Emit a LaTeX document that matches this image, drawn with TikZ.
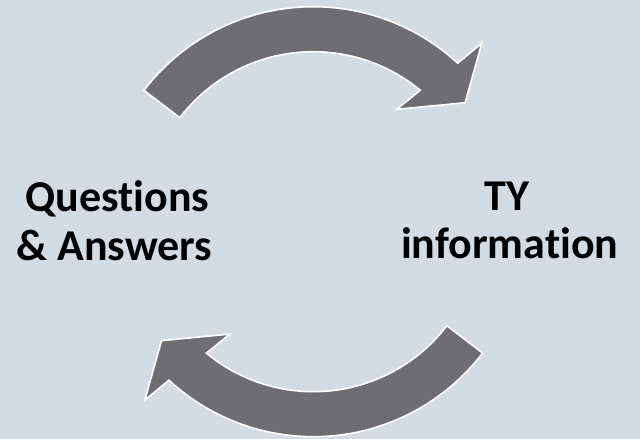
\documentclass[tikz,border=0pt]{standalone}
\usepackage{fontspec}
\setmainfont[Ligatures={NoCommon,NoRequired,NoContextual}]{Carlito}
\definecolor{bgcol}{RGB}{212,220,227}
\definecolor{arrowcol}{RGB}{110,109,114}
\tikzset{
  arrowshape/.style={fill=arrowcol, draw=white, line width=1.6pt, line join=miter},
  label/.style={font=\bfseries\fontsize{44}{48}\selectfont, text=black, inner sep=0pt, anchor=base}
}
\begin{document}
\begin{tikzpicture}[x=1pt,y=1pt]
  \fill[bgcol] (0,0) rectangle (640,-439);
  \useasboundingbox (0,0) rectangle (640,-439);
  % top arrow
  \begin{scope}[shift={(313.2,-219.7)}]
    \draw[arrowshape] (142.6:213) arc[start angle=142.6, end angle=47.3, radius=213]
      -- (46.3:244) -- (37.6:191.7) -- (52.9:138.4) -- (50.4:168)
      arc[start angle=50.4, end angle=142.6, radius=168] -- cycle;
  \end{scope}
  % bottom arrow
  \begin{scope}[shift={(313.4,-223.7)}]
    \draw[arrowshape] (322.6:213) arc[start angle=322.6, end angle=227.3, radius=213]
      -- (226.3:244) -- (217.6:191.7) -- (232.9:138.4) -- (230.4:168)
      arc[start angle=230.4, end angle=322.6, radius=168] -- cycle;
  \end{scope}
  \node[label] (q1) at (117.5,-211.5) {Questions};
  \node[label] (q2) at (114.5,-260) {\& Answers};
  \node[label] (t1) at (506.7,-210) {TY};
  \node[label] (t2) at (509.7,-258.5) {information};
\end{tikzpicture}
\end{document}
